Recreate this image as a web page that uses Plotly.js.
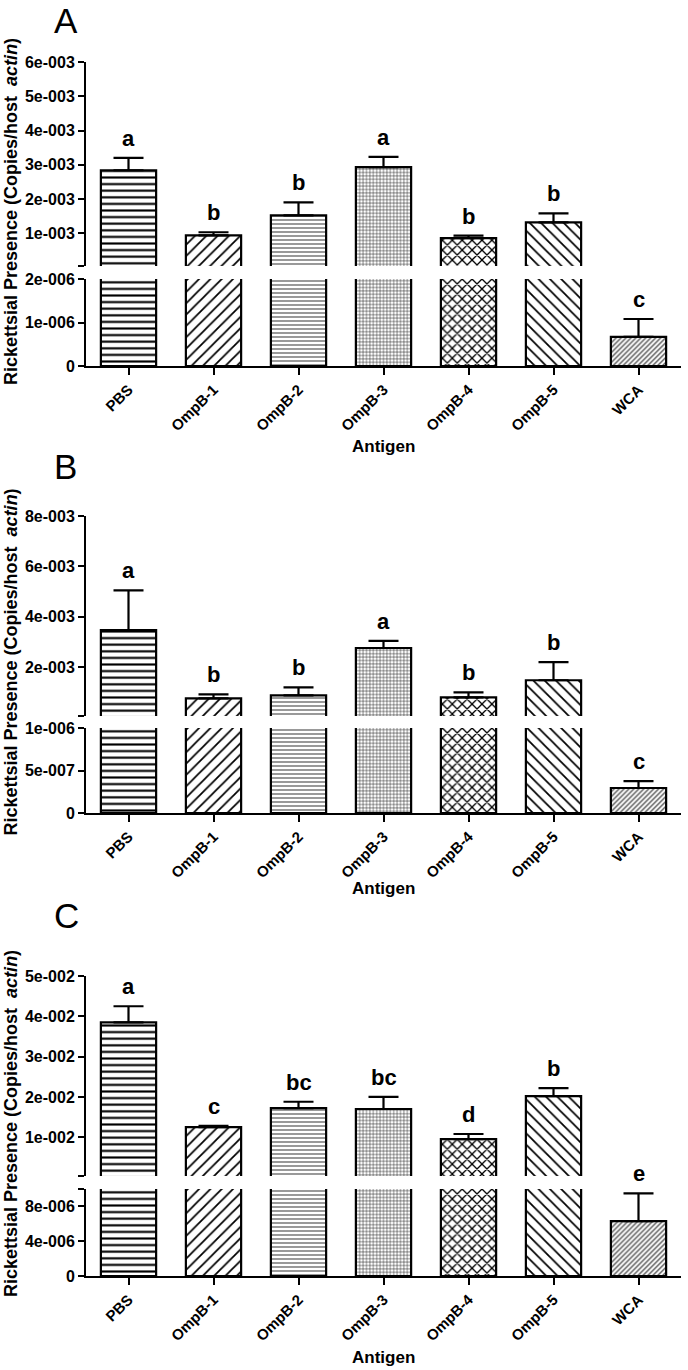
<!DOCTYPE html>
<html>
<head>
<meta charset="utf-8">
<script src="https://cdn.plot.ly/plotly-3.0.1.min.js"></script>
<style>html,body{margin:0;padding:0;background:#fff;}#chart{width:688px;height:1370px;}</style>
</head>
<body>
<div id="chart"></div>
<script>
// ---------------- DATA ----------------
const categories = ['PBS', 'OmpB-1', 'OmpB-2', 'OmpB-3', 'OmpB-4', 'OmpB-5', 'WCA'];

const meanA   = [2.84e-3, 0.94e-3, 1.52e-3, 2.93e-3, 0.86e-3, 1.32e-3, 6.7e-7];
const errTopA = [3.20e-3, 1.03e-3, 1.90e-3, 3.23e-3, 0.93e-3, 1.58e-3, 1.08e-6];
const lettersA = ['a', 'b', 'b', 'a', 'b', 'b', 'c'];

const meanB   = [3.47e-3, 0.76e-3, 0.88e-3, 2.76e-3, 0.80e-3, 1.48e-3, 2.94e-7];
const errTopB = [5.05e-3, 0.92e-3, 1.20e-3, 3.04e-3, 1.00e-3, 2.20e-3, 3.76e-7];
const lettersB = ['a', 'b', 'b', 'a', 'b', 'b', 'c'];

const meanC   = [3.85e-2, 1.25e-2, 1.72e-2, 1.70e-2, 0.95e-2, 2.02e-2, 6.3e-6];
const errTopC = [4.25e-2, 1.28e-2, 1.88e-2, 2.00e-2, 1.08e-2, 2.22e-2, 9.5e-6];
const lettersC = ['a', 'c', 'bc', 'bc', 'd', 'b', 'e'];

// axis ranges and tick labels
const upperMaxA = 6e-3, lowerMaxA = 2e-6;
const upperTicksA = [1e-3, 2e-3, 3e-3, 4e-3, 5e-3, 6e-3];
const upperTextA  = ['1e-003', '2e-003', '3e-003', '4e-003', '5e-003', '6e-003'];
const lowerTicksA = [0, 1e-6, 2e-6];
const lowerTextA  = ['0', '1e-006', '2e-006'];

const upperMaxB = 8e-3, lowerMaxB = 1e-6;
const upperTicksB = [2e-3, 4e-3, 6e-3, 8e-3];
const upperTextB  = ['2e-003', '4e-003', '6e-003', '8e-003'];
const lowerTicksB = [0, 5e-7, 1e-6];
const lowerTextB  = ['0', '5e-007', '1e-006'];

const upperMaxC = 5e-2, lowerMaxC = 1e-5;
const upperTicksC = [1e-2, 2e-2, 3e-2, 4e-2, 5e-2];
const upperTextC  = ['1e-002', '2e-002', '3e-002', '4e-002', '5e-002'];
const lowerTicksC = [0, 4e-6, 8e-6, 1e-5];
const lowerTextC  = ['0', '4e-006', '8e-006', ''];

const panelLabels = ['A', 'B', 'C'];
const xTitle = 'Antigen';
const yTitle = 'Rickettsial Presence (Copies/host\u00a0\u00a0<i>actin</i>)';

// ---------------- STYLE / LAYOUT ----------------
const W = 688, H = 1370;
const FONT = 'Liberation Sans, Arial, Helvetica, sans-serif';
const patShape = ['-', '/', '-', '+', 'x', '\\', '/'];
const patSize  = [6.6, 8, 4, 3.4, 7, 8, 3.5];
const patSolid = [0.32, 0.22, 0.3, 0.28, 0.34, 0.22, 0.4];
const patFg    = ['#000', '#000', '#555', '#222', '#000', '#000', '#555'];

// pixel geometry per panel: upper segment top/bottom, lower segment top/bottom, title positions
const geo = [
  {uTop: 62,  uBot: 266,  lTop: 279,  lBot: 366,  letterY: 21,  xTitleY: 447},
  {uTop: 516, uBot: 716,  lTop: 728,  lBot: 813,  letterY: 466, xTitleY: 888},
  {uTop: 976, uBot: 1176, lTop: 1189, lBot: 1276, letterY: 915, xTitleY: 1357}
];
const xLeft = 86, xRight = 681;

const panels = [
  {mean: meanA, err: errTopA, letters: lettersA, uMax: upperMaxA, lMax: lowerMaxA,
   uTicks: upperTicksA, uText: upperTextA, lTicks: lowerTicksA, lText: lowerTextA},
  {mean: meanB, err: errTopB, letters: lettersB, uMax: upperMaxB, lMax: lowerMaxB,
   uTicks: upperTicksB, uText: upperTextB, lTicks: lowerTicksB, lText: lowerTextB},
  {mean: meanC, err: errTopC, letters: lettersC, uMax: upperMaxC, lMax: lowerMaxC,
   uTicks: upperTicksC, uText: upperTextC, lTicks: lowerTicksC, lText: lowerTextC}
];

const py = px => 1 - px / H;
const traces = [];
const layout = {
  width: W, height: H, autosize: false,
  margin: {l: 0, r: 0, t: 0, b: 0},
  paper_bgcolor: '#fff', plot_bgcolor: 'rgba(0,0,0,0)',
  showlegend: false, bargap: 0.35,
  font: {family: FONT, color: '#000'},
  annotations: []
};

const axisCommon = {
  showline: true, linecolor: '#000', linewidth: 2, mirror: false,
  ticks: 'outside', ticklen: 6, tickwidth: 2, tickcolor: '#000',
  showgrid: false, zeroline: false, fixedrange: true,
  tickfont: {family: FONT, size: 16, weight: 700, color: '#000'}
};

panels.forEach((p, i) => {
  const k = i + 1;
  const g = geo[i];
  const xId = 'x' + k;
  const uId = 'y' + (2 * k - 1);
  const lId = 'y' + (2 * k);
  const xName = 'xaxis' + (k === 1 ? '' : k);
  const uName = 'yaxis' + (2 * k - 1 === 1 ? '' : 2 * k - 1);
  const lName = 'yaxis' + (2 * k);

  // start upper range just above 0 so the bar bottoms are hidden at the break
  const uStart = p.uMax * 1.5 / (g.uBot - g.uTop);

  const upperVals = p.mean.map(v => v > p.lMax ? v : null);
  const upperErr = p.mean.map((v, j) => v > p.lMax ? p.err[j] - v : null);
  const lowerErr = p.mean.map((v, j) => v < p.lMax ? p.err[j] - v : null);
  const zeros = p.mean.map(() => 0);

  const marker = {
    color: '#fff',
    line: {color: '#000', width: 2.2},
    pattern: {shape: patShape, size: patSize, solidity: patSolid, fgcolor: patFg,
              bgcolor: '#fff', fillmode: 'replace'}
  };
  const errStyle = {type: 'data', symmetric: false, color: '#000', thickness: 2.2, width: 15, visible: true};

  traces.push({
    type: 'bar', x: categories, y: upperVals, xaxis: xId, yaxis: uId,
    marker: marker, hoverinfo: 'skip',
    error_y: Object.assign({array: upperErr, arrayminus: zeros}, errStyle)
  });
  traces.push({
    type: 'bar', x: categories, y: p.mean, xaxis: xId, yaxis: lId,
    marker: marker, hoverinfo: 'skip',
    error_y: Object.assign({array: lowerErr, arrayminus: zeros}, errStyle)
  });

  layout[xName] = Object.assign({}, axisCommon, {
    domain: [xLeft / W, xRight / W], anchor: lId, type: 'category',
    range: [-0.5, 6.5], tickangle: -45, ticklen: 7,
    tickfont: {family: FONT, size: 15, weight: 700, color: '#000'}
  });
  layout[uName] = Object.assign({}, axisCommon, {
    domain: [py(g.uBot), py(g.uTop)], anchor: xId, range: [uStart, p.uMax],
    tickmode: 'array', tickvals: [uStart].concat(p.uTicks), ticktext: [''].concat(p.uText)
  });
  layout[lName] = Object.assign({}, axisCommon, {
    domain: [py(g.lBot), py(g.lTop)], anchor: xId, range: [0, p.lMax],
    tickmode: 'array', tickvals: p.lTicks, ticktext: p.lText
  });

  // significance letters
  p.mean.forEach((v, j) => {
    layout.annotations.push({
      xref: xId, yref: v > p.lMax ? uId : lId,
      x: categories[j], y: p.err[j], yanchor: 'bottom', xanchor: 'center',
      yshift: 5, showarrow: false, text: p.letters[j],
      font: {family: FONT, size: 22, weight: 700, color: '#000'}
    });
  });

  // panel letter
  layout.annotations.push({
    xref: 'paper', yref: 'paper', x: 52 / W, y: py(g.letterY), xanchor: 'left', yanchor: 'middle',
    showarrow: false, text: panelLabels[i],
    font: {family: FONT, size: 35, weight: 400, color: '#000'}
  });
  // y title
  layout.annotations.push({
    xref: 'paper', yref: 'paper', x: 11 / W, y: py((g.uTop + g.lBot) / 2 - 2),
    xanchor: 'center', yanchor: 'middle', textangle: -90,
    showarrow: false, text: yTitle,
    font: {family: FONT, size: 18, weight: 700, color: '#000'}
  });
  // x title
  layout.annotations.push({
    xref: 'paper', yref: 'paper', x: ((xLeft + xRight) / 2) / W, y: py(g.xTitleY),
    xanchor: 'center', yanchor: 'middle',
    showarrow: false, text: xTitle,
    font: {family: FONT, size: 17, weight: 700, color: '#000'}
  });
});

Plotly.newPlot('chart', traces, layout, {staticPlot: true, displayModeBar: false});
</script>
</body>
</html>
